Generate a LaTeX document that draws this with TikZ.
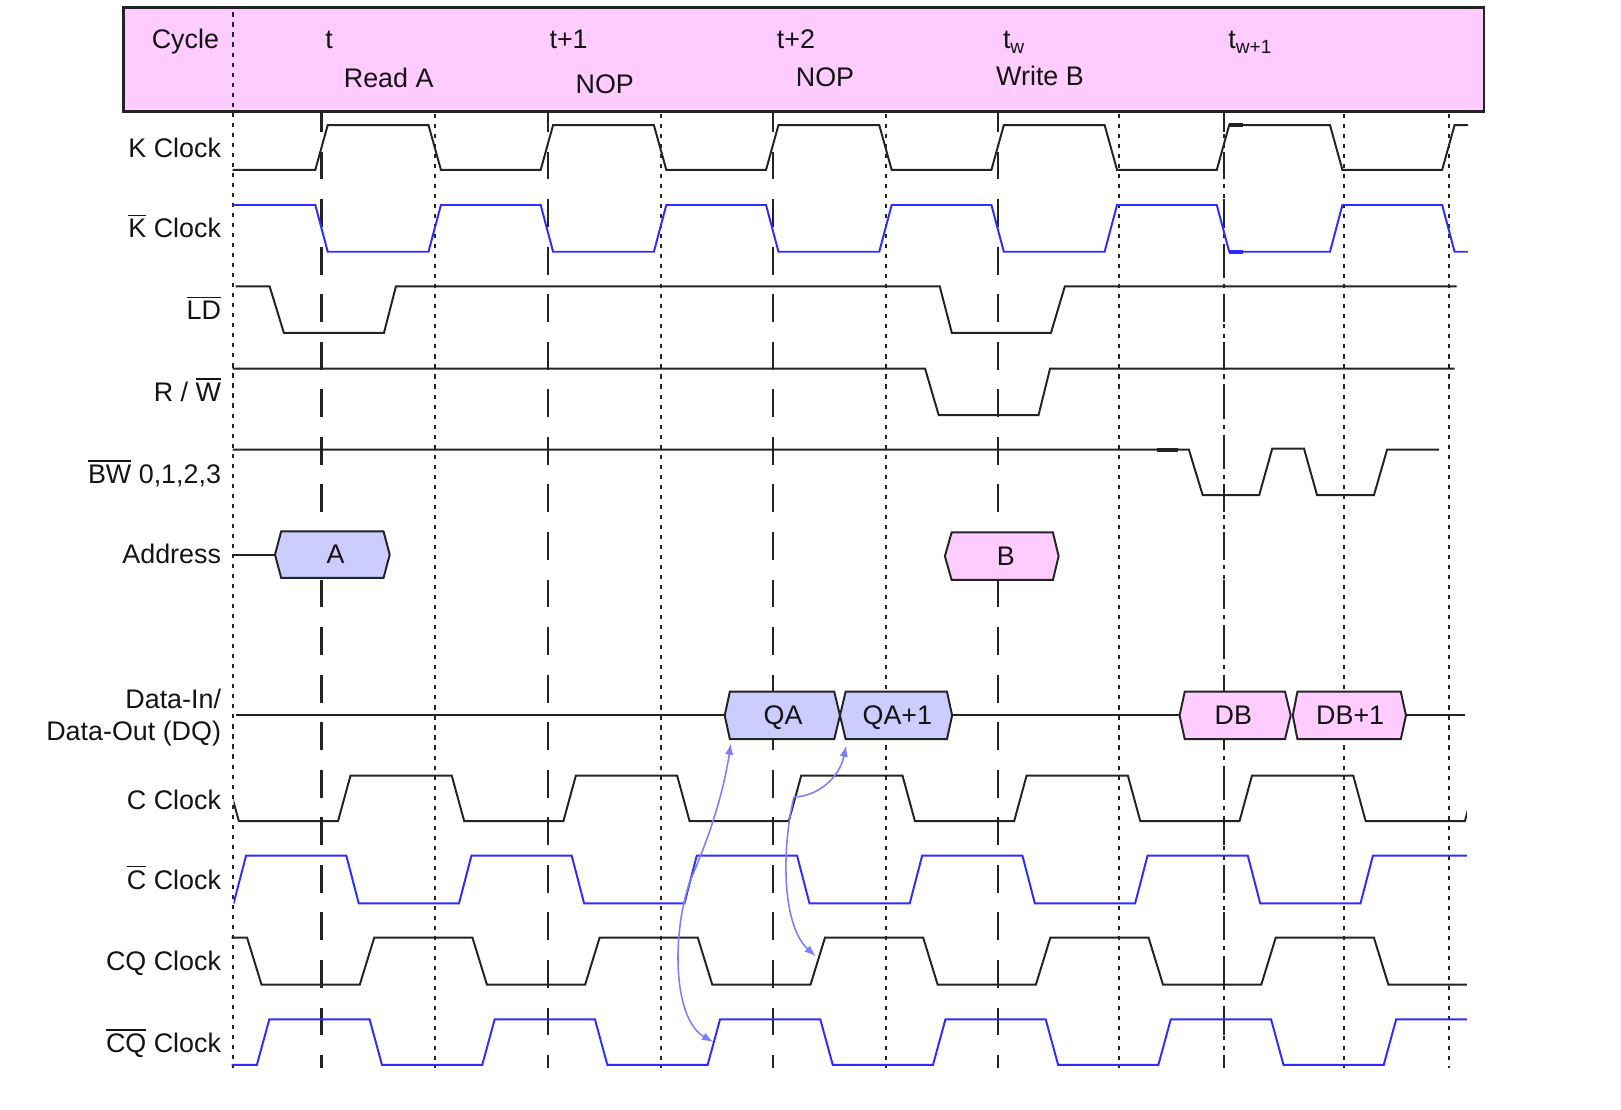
\documentclass[tikz,border=0pt]{standalone}
\usepackage{fontspec}
\setmainfont{Liberation Sans}
\usetikzlibrary{arrows.meta}
\definecolor{hdrpink}{RGB}{255,204,255}
\definecolor{hexblue}{RGB}{204,204,255}
\definecolor{sigblue}{RGB}{45,45,255}
\definecolor{arrblue}{RGB}{125,125,255}
\definecolor{ink}{RGB}{35,35,35}
\definecolor{txt}{RGB}{20,20,20}
\newcommand\ovl[1]{\vbox{\hrule height 1.6pt\kern 3pt\hbox{#1}}}
\newcommand\subw[1]{\raisebox{-5pt}{\fontsize{18.5}{19}\selectfont #1}}
% periodic clock, clipped: style, xstart, xend, level A, level B, edge A->B, edge B->A, half edge width
\newcommand\clockwave[8]{%
  \begin{scope}
    \clip (#2,0) rectangle (#3,1073);
    \draw[#1] (-400,#4) \foreach \k in {-3,...,7}{
      -- ({#6+\k*218-#8},#4) -- ({#6+\k*218+#8},#5)
      -- ({#7+\k*218-#8},#5) -- ({#7+\k*218+#8},#4)};
  \end{scope}}
\begin{document}
\begin{tikzpicture}[x=1pt,y=-1pt,
  sig/.style={line width=1.9pt, draw=ink},
  bsig/.style={line width=1.9pt, draw=sigblue},
  longdash/.style={line width=2pt, draw=ink, dash pattern=on 27pt off 19pt, dash phase=7.4pt},
  shortdash/.style={line width=2.1pt, draw=ink, dash pattern=on 4pt off 5.7pt},
  lbl/.style={anchor=base east, inner sep=0pt, font=\fontsize{26}{31}\selectfont, text=txt},
  hdr/.style={anchor=base, inner sep=0pt, font=\fontsize{26}{31}\selectfont, text=txt},
  hexa/.style={draw=ink, line width=1.9pt, fill=hexblue},
  hexp/.style={draw=ink, line width=1.9pt, fill=hdrpink},
  arr/.style={draw=arrblue, line width=1.5pt, -{Latex[length=11pt,width=8pt]}}]
\useasboundingbox (0,0) rectangle (1568,1073);

% header
\draw[line width=2.6pt, draw=ink, fill=hdrpink] (119.5,7.5) rectangle (1435.5,108);
\node[hdr, anchor=base east] (cyc) at (212,46.7) {Cycle};
\node[hdr, anchor=base west] (ht) at (314.5,46.7) {t};
\node[hdr] (hra) at (376,84.5) {Read A};
\node[hdr] (ht1) at (550,47) {t+1};
\node[hdr] (hn1) at (585,90) {NOP};
\node[hdr] (ht2) at (770,47) {t+2};
\node[hdr] (hn2) at (798,84) {NOP};
\node[hdr, anchor=base west] (htw) at (970,47) {t\subw{w}};
\node[hdr] (hwb) at (1006,82.5) {Write B};
\node[hdr, anchor=base west] (htw1) at (1188,47) {t\subw{w+1}};

% vertical reference lines
\draw[shortdash] (225,12) -- (225,1033);
\foreach \x in {421,639,857,1082,1184,1300,1402}
  \draw[shortdash] (\x,110) -- (\x,1033);
\foreach \x in {311,530,748,965,1184}
  \draw[longdash] (\x,108) -- (\x,1033);

% clocks
\clockwave{sig}{225}{1420}{164.3}{121}{311}{420.5}{6}
\clockwave{bsig}{225}{1420}{198.3}{243.5}{311}{420.5}{6}
\draw[sig, line width=3.6pt] (1189,121) -- (1202,121);
\draw[bsig, line width=3.6pt] (1189,243.5) -- (1202,243.5);

% control signals
\draw[sig] (228,277) -- (260.8,277) -- (274.6,322) -- (371.4,322) -- (383,277)
  -- (909,277) -- (920.7,322) -- (1016.6,322) -- (1030,277) -- (1409,277);
\draw[sig] (225,356.5) -- (894.8,356.5) -- (908,401.5) -- (1004.6,401.5)
  -- (1015.7,356.5) -- (1407,356.5);
\draw[sig] (225,435) -- (1150,435) -- (1163.4,479) -- (1218,479) -- (1230.6,434)
  -- (1261.4,434) -- (1274,479) -- (1329,479) -- (1341.7,435) -- (1392,435);
\draw[sig, line width=3.6pt] (1119,435) -- (1139.5,435);

% address bus
\draw[sig] (226.5,536.5) -- (266,536.5);
\draw[hexa] (266,536.5) -- (272,514) -- (371,514) -- (377,536.5) -- (371,559) -- (272,559) -- cycle;
\node[hdr] (adA) at (324.5,545.5) {A};
\draw[hexp] (914,538) -- (920.5,515) -- (1018.5,515) -- (1024,538) -- (1018.5,561) -- (920.5,561) -- cycle;
\node[hdr] (adB) at (973,547) {B};

% data bus
\draw[sig] (228,692) -- (701,692);
\draw[sig] (921,692) -- (1141,692);
\draw[sig] (1360,692) -- (1417,692);
\draw[hexa] (701,692) -- (706,669) -- (807,669) -- (812.5,692) -- (807,715) -- (706,715) -- cycle;
\draw[hexa] (812.5,692) -- (818,669) -- (916,669) -- (921,692) -- (916,715) -- (818,715) -- cycle;
\draw[hexp] (1141,692) -- (1146,669) -- (1243,669) -- (1248.5,692) -- (1243,715) -- (1146,715) -- cycle;
\draw[hexp] (1250.5,692) -- (1255,669) -- (1355,669) -- (1360,692) -- (1355,715) -- (1255,715) -- cycle;
\node[hdr] (dqa) at (757.5,701) {QA};
\node[hdr] (dqa1) at (868,701) {QA+1};
\node[hdr] (ddb) at (1193,701) {DB};
\node[hdr] (ddb1) at (1306,701) {DB+1};

% output clocks
\clockwave{sig}{226}{1419}{794.2}{750.3}{333}{443}{6}
\clockwave{bsig}{226}{1419}{873.8}{827.7}{232}{341}{6}
\clockwave{sig}{224}{1419}{952.5}{907}{355}{464}{7}
\clockwave{bsig}{224}{1419}{1030}{986}{254.5}{363.5}{6}

% row labels
\node[lbl] (lk) at (214,152.5) {K Clock};
\node[lbl] (lkb) at (214,230) {\ovl{K} Clock};
\node[lbl] (lld) at (214,309.5) {\ovl{LD}};
\node[lbl] (lrw) at (214,388.5) {R / \ovl{W}};
\node[lbl] (lbw) at (214,467.5) {\ovl{BW} 0,1,2,3};
\node[lbl] (ladr) at (214,545) {Address};
\node[lbl] (ldi) at (214,685) {Data-In/};
\node[lbl] (ldo) at (214,716) {Data-Out (DQ)};
\node[lbl] (lc) at (214,783) {C Clock};
\node[lbl] (lcb) at (214,860) {\ovl{C} Clock};
\node[lbl] (lcq) at (214,939) {CQ Clock};
\node[lbl] (lcqb) at (214,1018) {\ovl{CQ} Clock};

% timing arrows
\coordinate (e1) at (668,851);
\coordinate (qa) at (707,719);
\coordinate (cqb) at (690,1008);
\coordinate (e2) at (768,771);
\coordinate (qa1) at (818.5,721);
\coordinate (cq) at (789,925);
\draw[arr] (e1) .. controls (688,805) and (700,765) .. (qa);
\draw[arr] (e1) .. controls (650,900) and (650,985) .. (cqb);
\draw[arr] (e2) .. controls (792,770) and (812,752) .. (qa1);
\draw[arr] (e2) .. controls (756,820) and (756,895) .. (cq);
\end{tikzpicture}
\end{document}
